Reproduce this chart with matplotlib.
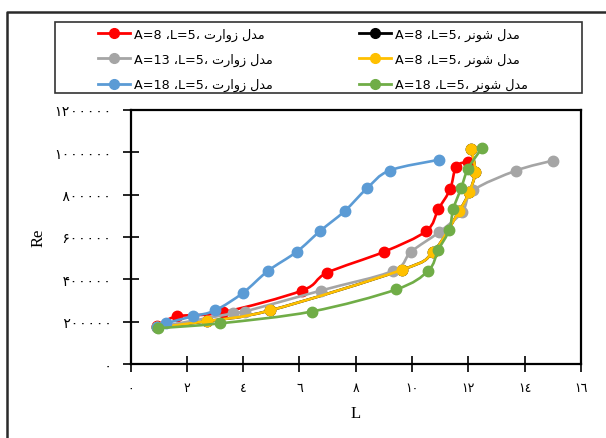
import matplotlib
matplotlib.use("Agg")
import matplotlib.pyplot as plt
import numpy as np
from matplotlib.path import Path
from matplotlib.patches import PathPatch, Rectangle
from matplotlib.lines import Line2D

# ---------------- data ----------------
red_L = [0.93, 1.64, 3.27, 6.09, 6.98, 9.0, 10.5, 10.93, 11.35, 11.57, 12.0]
red_Re = [178000, 225000, 244000, 347000, 431000, 530000, 628000, 731000, 825000, 933000, 956000]

gray_L = [0.93, 3.63, 4.06, 6.76, 9.32, 9.96, 10.96, 11.78, 12.17, 13.7, 15.0]
gray_Re = [173000, 239000, 248000, 347000, 440000, 530000, 623000, 717000, 820000, 914000, 961000]

blue_L = [0.93, 1.25, 2.2, 3.0, 4.0, 4.88, 5.9, 6.73, 7.6, 8.4, 9.2, 10.96]
blue_Re = [173000, 192000, 225000, 253000, 337000, 440000, 530000, 628000, 722000, 830000, 914000, 965000]

black_L = [0.93, 2.7, 4.95, 9.64, 10.75, 11.67, 12.03, 12.24, 12.1]
black_Re = [173000, 202000, 253000, 445000, 530000, 722000, 811000, 909000, 1017000]

yellow_L = [0.93, 2.7, 4.95, 9.64, 10.75, 11.67, 12.03, 12.24, 12.1]
yellow_Re = [173000, 202000, 253000, 445000, 530000, 722000, 811000, 909000, 1017000]

green_L = [0.96, 3.17, 6.44, 9.43, 10.57, 10.93, 11.32, 11.46, 11.74, 11.99, 12.49]
green_Re = [169000, 192000, 248000, 352000, 440000, 539000, 633000, 731000, 830000, 923000, 1022000]

# shaped (visual order) Arabic words
zovart = "\uFE95\uFEAD\uFE8D\uFEED\uFEAF \uFEDD\uFEAA\uFEE3"   # مدل زوارت
shonr = "\uFEAE\uFEE7\uFEEE\uFEB7 \uFEDD\uFEAA\uFEE3"           # مدل شونر

labels_red = "A=8 \u060CL=5\u060C " + zovart
labels_gray = "A=13 \u060CL=5\u060C " + zovart
labels_blue = "A=18 \u060CL=5\u060C " + zovart
labels_black = "A=8 \u060CL=5\u060C " + shonr
labels_yellow = "A=8 \u060CL=5\u060C " + shonr
labels_green = "A=18 \u060CL=5\u060C " + shonr

x_ticks = [0, 2, 4, 6, 8, 10, 12, 14, 16]
x_ticklabels = ["\u0660", "\u0662", "\u0664", "\u0666", "\u0668",
                "\u0661\u0660", "\u0661\u0662", "\u0661\u0664", "\u0661\u0666"]
y_ticks = [0, 200000, 400000, 600000, 800000, 1000000, 1200000]
y_ticklabels = ["\u06F0", "\u06F2\u06F0\u06F0\u06F0\u06F0\u06F0",
                "\u06F4\u06F0\u06F0\u06F0\u06F0\u06F0",
                "\u06F6\u06F0\u06F0\u06F0\u06F0\u06F0",
                "\u06F8\u06F0\u06F0\u06F0\u06F0\u06F0",
                "\u06F1\u06F0\u06F0\u06F0\u06F0\u06F0\u06F0",
                "\u06F1\u06F2\u06F0\u06F0\u06F0\u06F0\u06F0"]

# ---------------- figure ----------------
W, H = 606, 439
fig = plt.figure(figsize=(W / 100, H / 100), dpi=100)
ax = fig.add_axes([130.6 / W, 1 - 365 / H, (581 - 130.6) / W, (365 - 111) / H])
ax.set_xlim(0, 16)
ax.set_ylim(0, 1200000)

for sp in ax.spines.values():
    sp.set_linewidth(1.6)
    sp.set_color("black")

ax.set_xticks(x_ticks)
ax.set_xticklabels(x_ticklabels, fontfamily="DejaVu Sans", fontsize=9)
ax.set_yticks(y_ticks)
ax.set_yticklabels(y_ticklabels, family=["DejaVu Sans Mono", "DejaVu Sans"], fontsize=10)
ax.tick_params(axis="both", direction="inout", length=11, width=1.2, color="black")
ax.tick_params(axis="y", pad=8)
ax.tick_params(axis="x", pad=7)

ax.set_xlabel("L", fontfamily="Liberation Serif", fontsize=12, labelpad=8)
ax.set_ylabel("Re", fontfamily="Liberation Serif", fontsize=12, labelpad=5)


def smooth_line(xs, ys, color, z):
    pts = ax.transData.transform(np.column_stack([xs, ys]))
    n = len(pts)
    verts = [pts[0]]
    codes = [Path.MOVETO]
    for i in range(n - 1):
        p0 = pts[i - 1] if i > 0 else pts[i]
        p1 = pts[i]
        p2 = pts[i + 1]
        p3 = pts[i + 2] if i + 2 < n else pts[i + 1]
        c1 = p1 + (p2 - p0) / 6.0
        c2 = p2 - (p3 - p1) / 6.0
        verts += [c1, c2, p2]
        codes += [Path.CURVE4] * 3
    verts = ax.transData.inverted().transform(np.array(verts))
    patch = PathPatch(Path(verts, codes), facecolor="none", edgecolor=color,
                      lw=1.9, transform=ax.transData, zorder=z, capstyle="round")
    ax.add_patch(patch)
    ax.plot(xs, ys, "o", color=color, markersize=7.5, zorder=z + 0.5, linestyle="none")


series = [
    (black_L, black_Re, "#000000", labels_black, 2),
    (red_L, red_Re, "#FF0000", labels_red, 3),
    (gray_L, gray_Re, "#A5A5A5", labels_gray, 4),
    (yellow_L, yellow_Re, "#FFC000", labels_yellow, 5),
    (blue_L, blue_Re, "#5B9BD5", labels_blue, 6),
    (green_L, green_Re, "#70AD47", labels_green, 7),
]
for xs, ys, c, lab, z in series:
    smooth_line(xs, ys, c, z)

# legend frame
fig.add_artist(Rectangle((55 / W, 1 - 94 / H), (582 - 55) / W, (94 - 23) / H,
                         transform=fig.transFigure, facecolor="white",
                         edgecolor="#333333", lw=1.2, zorder=1))

# legend: left column red, gray, blue; right column black, yellow, green
order = [1, 2, 4, 0, 3, 5]
handles = [Line2D([], [], color=series[i][2], marker="o", markersize=7, lw=2.0) for i in order]
labs = [series[i][3] for i in order]
leg = fig.legend(handles, labs, loc="center",
                 bbox_to_anchor=(98 / W, 1 - 96 / H, (528 - 98) / W, 71 / H),
                 mode="expand", ncol=2, frameon=False,
                 prop={"family": "DejaVu Sans", "size": 9.2},
                 handlelength=2.5, handletextpad=0.35, borderaxespad=0,
                 labelspacing=0.95, columnspacing=2.0, borderpad=0.0)
leg.set_zorder(2)

# outer chart border (left and top visible)
fig.add_artist(Line2D([7 / W, 7 / W, 1.0], [0.0, 1 - 13 / H, 1 - 13 / H],
                      transform=fig.transFigure, color="#2a2a2a", lw=1.8))

fig.savefig("out.png", dpi=100)
